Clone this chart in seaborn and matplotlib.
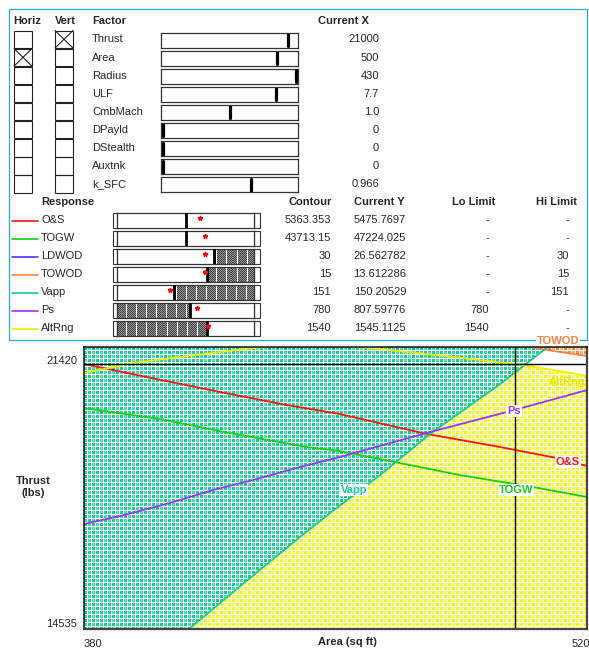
import numpy as np
import pandas as pd
import matplotlib
matplotlib.use("Agg")
import matplotlib.pyplot as plt
import matplotlib.transforms as mtransforms
from matplotlib.patches import Rectangle, Polygon
import seaborn as sns

# ---------------- factors ----------------
factor_names = ["Thrust", "Area", "Radius", "ULF", "CmbMach", "DPayld", "DStealth", "Auxtnk", "k_SFC"]
factor_current = [21000, 500, 430, 7.7, 1.0, 0, 0, 0, 0.966]
factor_lo = [14535, 380, 370, 5.5, 0.5, 0, 0, 0, 0.9]
factor_hi = [21420, 520, 430, 8.1, 1.5, 1, 1, 1, 1.0]
horiz_factor = "Area"
vert_factor = "Thrust"

# ---------------- responses ----------------
response_names = ["O&S", "TOGW", "LDWOD", "TOWOD", "Vapp", "Ps", "AltRng"]
response_colors = ["#ff1010", "#10d010", "#4433ff", "#ff8040", "#18c896", "#9933ff", "#eeee00"]
contour_values = [5363.353, 43713.15, 30, 15, 151, 780, 1540]
current_y = [5475.7697, 47224.025, 26.562782, 13.612286, 150.20529, 807.59776, 1545.1125]
lo_limits = [None, None, None, None, None, 780, 1540]
hi_limits = [None, None, 30, 15, 151, None, None]
resp_lo = [4810, 30960, -7.0, -47.4, 139.6, 493, 1080]
resp_hi = [5910, 56280, 45.3, 47.6, 166.9, 1033, 1780]

# ---------------- contour curves (Area, Thrust) ----------------
os_area = [380, 397.5, 417.9, 436.5, 451.2, 475.5, 495.8, 511.6, 520]
os_thrust = [21004, 20686, 20320, 20003, 19783, 19295, 18978, 18709, 18514]
togw_area = [380, 401.2, 420.6, 442.1, 451.2, 467.9, 484.6, 505.0, 520]
togw_thrust = [19930, 19661, 19319, 18978, 18880, 18587, 18294, 18001, 17757]
ps_area = [380, 390.0, 403.9, 415.9, 427.0, 440.1, 451.2, 476.3, 497.7, 508.9, 520]
ps_thrust = [17098, 17293, 17611, 17928, 18172, 18489, 18734, 19344, 19832, 20100, 20369]
vapp_area = [409.2, 426.2, 440.1, 448.5, 462.4, 476.3, 495.8, 509.1]
vapp_thrust = [14535, 15780, 16781, 17367, 18294, 19295, 20515, 21420]
altrng_area = [380, 393.6, 406.7, 417.9, 424.3, 442.9, 462.4, 485.5, 502.2, 515.8, 520]
altrng_thrust = [20784, 21028, 21175, 21297, 21370, 21516, 21370, 21150, 20979, 20784, 20711]
towod_area = [504, 509, 520]
towod_thrust = [21420, 21345, 21199]

sns.set_style("white")
plt.rcParams["font.family"] = ["Liberation Sans", "DejaVu Sans"]
plt.rcParams["font.size"] = 8

W, H = 589, 648
fig = plt.figure(figsize=(W / 100, H / 100), dpi=100)


def add_px_axes(x0, y0, x1, y1):
    return fig.add_axes([x0 / W, 1 - y1 / H, (x1 - x0) / W, (y1 - y0) / H])


def pattern(h, w, color, alt=None, period=4):
    """Stipple fill: small coloured blocks separated by one-pixel white lines."""
    yy, xx = np.mgrid[0:h, 0:w]
    img = np.ones((h, w, 3))
    block = ((yy % period) != period - 1) & ((xx % period) != period - 1)
    img[block] = color
    if alt is not None:
        cell = ((yy // period + xx // period) % 2) == 1
        img[block & cell] = alt
    return img


def checker(h, w, dark, light, stripe=10):
    """Dense one-pixel checker with white vertical stripes."""
    yy, xx = np.mgrid[0:h, 0:w]
    img = np.empty((h, w, 3))
    on = ((xx + yy) % 2) == 0
    img[on] = dark
    img[~on] = light
    img[(xx % stripe) == stripe - 1] = 1.0
    return img


def clean(axx, color="#333333", lw=0.9):
    axx.set_xticks([])
    axx.set_yticks([])
    for s in axx.spines.values():
        s.set_visible(True)
        s.set_color(color)
        s.set_linewidth(lw)


# background layer in pixel units for the control table
ax_bg = add_px_axes(0, 0, W, H)
ax_bg.set_xlim(0, W)
ax_bg.set_ylim(H, 0)
ax_bg.axis("off")
ax_bg.add_patch(Rectangle((9, 9), 578, 331, fill=False, edgecolor="#2aa8e0", lw=0.9))

bold = dict(fontsize=8, fontweight="bold", va="center")
ax_bg.text(13, 21, "Horiz", ha="left", **bold)
ax_bg.text(55, 21, "Vert", ha="left", **bold)
ax_bg.text(92, 21, "Factor", ha="left", **bold)
ax_bg.text(369, 21, "Current X", ha="right", **bold)

bar_x0, bar_x1 = 161, 298
for i, name in enumerate(factor_names):
    c = 40 + 18.09 * i
    for bx, flag in ((14, name == horiz_factor), (55, name == vert_factor)):
        ax_bg.add_patch(Rectangle((bx, c - 9.5), 18, 17.5, fill=False, edgecolor="#222222", lw=0.8))
        if flag:
            ax_bg.plot([bx, bx + 18], [c - 9.5, c + 8], color="#222222", lw=0.8)
            ax_bg.plot([bx, bx + 18], [c + 8, c - 9.5], color="#222222", lw=0.8)
    ax_bg.text(92, c - 0.5, name, ha="left", va="center", fontsize=8)
    ax_bg.text(379, c - 0.5, str(factor_current[i]), ha="right", va="center", fontsize=8)
    sax = add_px_axes(bar_x0, c - 7.5, bar_x1, c + 7.5)
    lo, hi = factor_lo[i], factor_hi[i]
    pad = (hi - lo) * 2.0 / (bar_x1 - bar_x0 - 4)
    sax.set_xlim(lo - pad, hi + pad)
    sax.set_ylim(0, 1)
    sax.axvline(factor_current[i], ymin=0.1, ymax=0.9, color="black", lw=2.3)
    clean(sax)

ax_bg.text(41, 202, "Response", ha="left", **bold)
ax_bg.text(332, 202, "Contour", ha="right", **bold)
ax_bg.text(405, 202, "Current Y", ha="right", **bold)
ax_bg.text(495, 202, "Lo Limit", ha="right", **bold)
ax_bg.text(577, 202, "Hi Limit", ha="right", **bold)

rb_x0, rb_x1 = 117, 254
grey_tex = checker(15, 137, (0.25, 0.25, 0.25), (0.6, 0.6, 0.6), stripe=10)
for i, name in enumerate(response_names):
    c = 220.5 + 18 * i
    ax_bg.plot([12, 38], [c, c], color=response_colors[i], lw=1.2)
    ax_bg.text(41, c - 0.5, name, ha="left", va="center", fontsize=8)
    ax_bg.add_patch(Rectangle((113, c - 7.5), 4, 15, fill=False, edgecolor="#333333", lw=0.8))
    ax_bg.add_patch(Rectangle((254, c - 7.5), 6, 15, fill=False, edgecolor="#333333", lw=0.8))
    ax_bg.text(331, c - 0.5, str(contour_values[i]), ha="right", va="center", fontsize=8)
    ax_bg.text(406, c - 0.5, str(current_y[i]), ha="right", va="center", fontsize=8)
    lo_txt = "-" if lo_limits[i] is None else str(lo_limits[i])
    hi_txt = "-" if hi_limits[i] is None else str(hi_limits[i])
    ax_bg.text(489, c - 0.5, lo_txt, ha="right", va="center", fontsize=8)
    ax_bg.text(569, c - 0.5, hi_txt, ha="right", va="center", fontsize=8)

    rax = add_px_axes(rb_x0, c - 7.5, rb_x1, c + 7.5)
    spans = []
    if lo_limits[i] is not None:
        spans.append((resp_lo[i], lo_limits[i]))
    if hi_limits[i] is not None:
        spans.append((hi_limits[i], resp_hi[i]))
    for a, b in spans:
        span = rax.axvspan(a, b, facecolor="none", edgecolor="none")
        im = rax.imshow(grey_tex, extent=[resp_lo[i], resp_hi[i], 0, 1], aspect="auto",
                        interpolation="nearest", zorder=1)
        im.set_clip_path(span)
    rax.set_xlim(resp_lo[i], resp_hi[i])
    rax.set_ylim(0, 1)
    rax.axvline(contour_values[i], color="black", lw=2.0, zorder=3)
    rax.plot([current_y[i]], [0.68], marker="*", color="red", ms=3.5, zorder=4)
    clean(rax)

# ---------------- contour plot ----------------
ax = add_px_axes(84, 347, 587, 629)
x_min, x_max = factor_lo[factor_names.index(horiz_factor)], factor_hi[factor_names.index(horiz_factor)]
y_min, y_max = factor_lo[factor_names.index(vert_factor)], factor_hi[factor_names.index(vert_factor)]

teal_tex = pattern(282, 503, (0.1, 0.8, 0.58), alt=(0.3, 0.85, 0.68), period=4)
yellow_tex = pattern(282, 503, (0.96, 0.96, 0.1), alt=(0.98, 0.98, 0.35), period=4)
orange_tex = pattern(282, 503, (1.0, 0.5, 0.2), alt=(1.0, 0.7, 0.5), period=4)

regions = [
    (yellow_tex, [(x_min, y_min)] + list(zip(altrng_area, altrng_thrust)) + [(x_max, y_min)], 1),
    (teal_tex, [(x_min, y_min)] + list(zip(vapp_area, vapp_thrust)) + [(x_min, y_max)], 2),
    (orange_tex, list(zip(towod_area, towod_thrust)) + [(x_max, y_max)], 2),
]
for tex, verts, z in regions:
    poly = Polygon(verts, closed=True, transform=ax.transData, fill=False, edgecolor="none")
    ax.add_patch(poly)
    im = ax.imshow(tex, extent=[x_min, x_max, y_min, y_max], aspect="auto",
                   interpolation="nearest", zorder=z)
    im.set_clip_path(poly)

curves = {
    "O&S": (os_area, os_thrust),
    "TOGW": (togw_area, togw_thrust),
    "TOWOD": (towod_area, towod_thrust),
    "Vapp": (vapp_area, vapp_thrust),
    "Ps": (ps_area, ps_thrust),
    "AltRng": (altrng_area, altrng_thrust),
}
df = pd.concat([pd.DataFrame({"Area": a, "Thrust": t, "Response": n}) for n, (a, t) in curves.items()],
               ignore_index=True)
palette = {n: response_colors[response_names.index(n)] for n in curves}
sns.lineplot(data=df, x="Area", y="Thrust", hue="Response", palette=palette, estimator=None,
             sort=False, legend=False, lw=1.3, ax=ax, zorder=3)

ax.axhline(factor_current[factor_names.index(vert_factor)], color="black", lw=1.0, zorder=4)
ax.axvline(factor_current[factor_names.index(horiz_factor)], color="black", lw=1.0, zorder=4)

ax.set_xlim(x_min, x_max)
ax.set_ylim(y_min, y_max)

lab = dict(fontsize=8, fontweight="bold", ha="center", va="center", zorder=5)
wbox = dict(facecolor="white", edgecolor="none", pad=0.6)
ax.text(499.7, 19856, "Ps", color=palette["Ps"], bbox=wbox, **lab)
ax.text(514.7, 18611, "O&S", color=palette["O&S"], bbox=wbox, **lab)
ax.text(500.2, 17928, "TOGW", color=palette["TOGW"], bbox=wbox, **lab)
ax.text(455.1, 17928, "Vapp", color=palette["Vapp"], bbox=wbox, **lab)
ax.text(514.4, 20564, "AltRng", color="#e6e600", **lab)
ax.text(511.9, 21566, "TOWOD", color=palette["TOWOD"], bbox=wbox, clip_on=False, **lab)

ax.set_xticks([x_min, x_max])
ax.set_xticklabels([f"{x_min:g}", f"{x_max:g}"])
ax.set_yticks([y_min, y_max])
ax.set_yticklabels([f"{y_min:g}", f"{y_max:g}"])
ax.tick_params(axis="both", length=0, labelsize=8)
ax.tick_params(axis="x", pad=7)
ax.tick_params(axis="y", pad=5)
xl = ax.get_xticklabels()
xl[0].set_ha("left")
xl[1].set_ha("right")
xl[1].set_transform(xl[1].get_transform() + mtransforms.ScaledTranslation(3 / 100, 0, fig.dpi_scale_trans))
yl = ax.get_yticklabels()
yl[0].set_va("bottom")
yl[1].set_va("top")
yl[1].set_transform(yl[1].get_transform() + mtransforms.ScaledTranslation(0, -9 / 100, fig.dpi_scale_trans))

ax.set_xlabel("Area (sq ft)", fontsize=8, fontweight="bold", va="center")
ax.xaxis.set_label_coords((347 - 84) / 503, -(642 - 629) / 282)
ax.set_ylabel("Thrust\n(lbs)", fontsize=8, fontweight="bold", rotation=0, ha="center", va="center")
ax.yaxis.set_label_coords((33 - 84) / 503, (629 - 487) / 282)

for side, s in ax.spines.items():
    s.set_visible(True)
    s.set_zorder(6)
    if side in ("bottom", "right"):
        s.set_color("#444444")
        s.set_linewidth(1.6)
    else:
        s.set_color("#111111")
        s.set_linewidth(1.1)

fig.savefig("out.png", dpi=100)
